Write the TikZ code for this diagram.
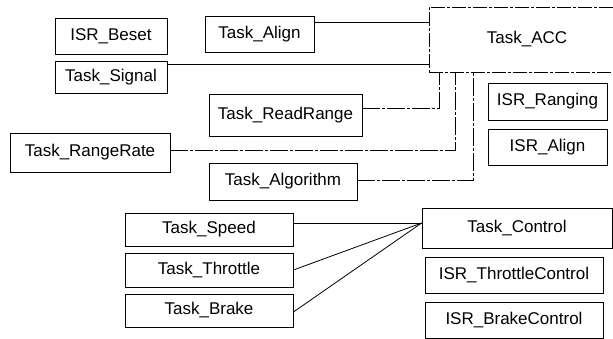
\documentclass[tikz,border=0pt]{standalone}
\usepackage{fontspec}
\setmainfont{Liberation Sans}
\begin{document}
\begin{tikzpicture}[x=1pt,y=1pt,
  box/.style={draw, line width=0.8pt, inner sep=0pt, align=center,
    font=\fontsize{17}{20}\selectfont},
  accbox/.style={box, dash pattern=on 14pt off 2pt on 3pt off 2pt},
  link/.style={line width=0.8pt},
  acclink/.style={line width=0.8pt, dash pattern=on 18pt off 2pt on 3pt off 2pt}]
\useasboundingbox (0,0) rectangle (613,-339);
% boxes
\node[box, minimum width=112, minimum height=36] (beset) at (111,-36) {ISR\_Beset};
\node[box, minimum width=112, minimum height=32] (signal) at (111,-77) {Task\_Signal};
\node[box, minimum width=109, minimum height=36] (align) at (259.5,-34) {Task\_Align};
\node[accbox, minimum width=196, minimum height=65] (acc) at (527,-39.5) {Task\_ACC};
\node[box, minimum width=153, minimum height=42] (readrange) at (285.5,-115) {Task\_ReadRange};
\node[box, minimum width=160, minimum height=39] (rangerate) at (90,-152.5) {Task\_RangeRate};
\node[box, minimum width=148, minimum height=37] (algorithm) at (283,-181.5) {Task\_Algorithm};
\node[box, minimum width=119, minimum height=37] (isrranging) at (547.5,-101.5) {ISR\_Ranging};
\node[box, minimum width=119, minimum height=36] (isralign) at (547.5,-147) {ISR\_Align};
\node[box, minimum width=168, minimum height=33] (speed) at (209,-229.5) {Task\_Speed};
\node[box, minimum width=168, minimum height=34] (throttle) at (209,-270) {Task\_Throttle};
\node[box, minimum width=168, minimum height=33] (brake) at (209,-310.5) {Task\_Brake};
\node[box, minimum width=190, minimum height=40] (control) at (517,-228) {Task\_Control};
\node[box, minimum width=178, minimum height=36] (isrthrottle) at (514,-275) {ISR\_ThrottleControl};
\node[box, minimum width=178, minimum height=36] (isrbrake) at (514,-320) {ISR\_BrakeControl};
% connectors to Task_ACC
\coordinate (a1) at ([yshift=12]align.east);
\draw[link] (a1) -- (a1 -| acc.west);
\coordinate (a2) at ([yshift=13]signal.east);
\draw[link] (a2) -- (a2 -| acc.west);
\draw[acclink] ([yshift=7]readrange.east) -| ([xshift=-88]acc.south);
\draw[acclink] ([yshift=2]rangerate.east) -| ([xshift=-72]acc.south);
\draw[acclink] ([yshift=1.5]algorithm.east) -| ([xshift=-54]acc.south);
% connectors to Task_Control
\coordinate (c) at ([yshift=5]control.west);
\draw[link] ([yshift=6.5]speed.east) -- (c);
\draw[link] (throttle.east) -- (c);
\draw[link] ([yshift=-1.5]brake.east) -- (c);
\end{tikzpicture}
\end{document}
